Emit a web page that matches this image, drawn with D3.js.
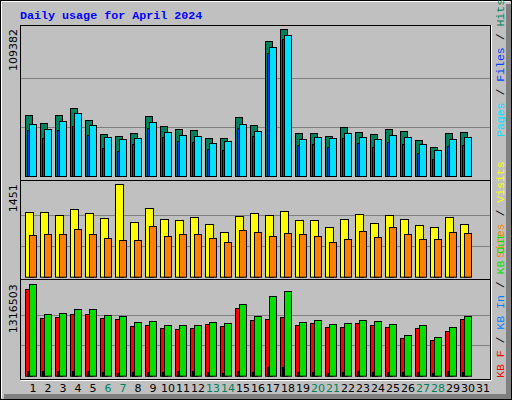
<!DOCTYPE html>
<html>
<head>
<meta charset="utf-8">
<script src="https://cdn.jsdelivr.net/npm/d3@7"></script>
<style>body{margin:0;background:#fff}svg{display:block}</style>
</head>
<body>
<svg id="chart" width="512" height="400"></svg>
<script>
// Daily values
const days = d3.range(1, 32);
const weekend = [6, 7, 13, 14, 20, 21, 27, 28];
const hits = [45540,39600,45540,50740,41830,31430,29950,32180,44800,37370,35150,34400,28460,28460,44060,38120,100490,109382,32180,32180,29950,36630,32920,31430,35150,33660,26980,21780,32180,32920];
const files = [33910,28460,34400,37370,30690,21040,18810,24010,35890,29210,26240,25490,20300,19550,35890,29950,91580,101970,23270,24010,21780,28460,24750,21780,25490,24010,17330,12870,22520,23270];
const pages = [38860,35150,41090,47030,38120,29210,27720,28460,40340,32920,30690,29950,24750,26240,38860,33660,96030,104940,27720,29210,28460,32180,29210,27720,30690,29210,24010,19550,27720,29210];
const visits = [1011,1011,964,1058,995,917,1451,854,1074,901,885,932,822,697,948,995,964,1027,885,885,775,901,980,838,964,901,807,775,932,822];
const sites = [650,665,665,744,665,602,571,571,791,634,665,665,602,540,728,697,634,681,665,634,540,587,712,618,775,665,587,587,697,681];
const kbOut = [1316503,883990,898400,956050,956050,869580,855160,768690,783100,725450,725450,725450,768690,754280,1028100,855160,1143420,1215480,768690,797510,739860,754280,797510,783100,739860,581320,725450,552490,696630,855160];
const kbF = [1244430,826350,840760,883990,883990,826350,811930,711040,725450,682220,667800,682220,739860,711040,970470,797510,811930,840760,725450,754280,696630,696630,754280,725450,696630,538080,682220,509260,639000,811930];
const kbIn = [62460,62460,62460,62460,62460,48040,33630,48040,48040,48040,62460,62460,48040,33630,62460,48040,120110,120110,48040,48040,33630,48040,62460,48040,48040,48040,48040,33630,62460,48040];
const maxLabels = ['109382', '1451', '1316503'];

const svg = d3.select('#chart');
const BG = '#c0c0c0';

// outer frame
svg.append('rect').attr('width', 512).attr('height', 400).attr('fill', BG);
svg.append('rect').attr('x', 506).attr('y', 4).attr('width', 5).attr('height', 395).attr('fill', '#808080');
svg.append('rect').attr('x', 4).attr('y', 394).attr('width', 507).attr('height', 5).attr('fill', '#808080');
svg.append('path').attr('d', 'M1.5,398V1.5H510').attr('stroke', '#fff').attr('fill', 'none');
svg.append('rect').attr('x', 0.5).attr('y', 0.5).attr('width', 511).attr('height', 399)
    .attr('fill', 'none').attr('stroke', '#000');

svg.append('text').attr('x', 20).attr('y', 19)
    .attr('font-family', 'Liberation Mono, DejaVu Sans Mono, monospace')
    .attr('font-weight', 'bold').attr('font-size', 11.7).attr('fill', '#0000ff')
    .text('Daily usage for April 2024');

const x = d3.scaleLinear().domain([1, 31]).range([25, 475]);

const panels = [
    { top: 25, bottom: 180, base: 176, max: 29, domain: hits[17] },
    { top: 180, bottom: 279, base: 276.7, max: 184.3, domain: visits[6] },
    { top: 279, bottom: 379, base: 375.7, max: 284.3, domain: kbOut[0] }
];

panels.forEach((p, i) => {
    p.y = d3.scaleLinear().domain([0, p.domain]).range([p.base, p.max]);
    svg.append('rect').attr('x', 20.5).attr('y', p.top + 0.5).attr('width', 470)
        .attr('height', p.bottom - p.top).attr('fill', BG).attr('stroke', '#000');
    svg.append('path').attr('d', `M20.5,${p.bottom + 1.5}H491.5V${p.top + 0.5}`)
        .attr('stroke', '#fff').attr('fill', 'none');
    [1 / 3, 2 / 3].forEach(f => {
        const gy = Math.round(p.y(p.domain * f)) + 0.5;
        svg.append('line').attr('x1', 21).attr('x2', 490).attr('y1', gy).attr('y2', gy)
            .attr('stroke', '#808080').attr('stroke-width', 1);
    });
    svg.append('text')
        .attr('transform', `translate(17,${p.max}) rotate(-90)`)
        .attr('text-anchor', 'end')
        .attr('font-family', 'DejaVu Sans, sans-serif').attr('font-size', 11)
        .text(maxLabels[i]);
});

function bars(panel, data, dx, w, color) {
    const y = panel.y;
    svg.append('g').selectAll('rect').data(data).enter().append('rect')
        .attr('x', (d, i) => x(i + 1) + dx + 0.5)
        .attr('y', d => Math.round(y(d)) + 0.5)
        .attr('width', w)
        .attr('height', d => panel.base - Math.round(y(d)))
        .attr('fill', color).attr('stroke', '#000').attr('stroke-width', 1);
}

bars(panels[0], hits, 0, 7, '#00805c');
bars(panels[0], files, 2, 7, '#0040ff');
bars(panels[0], pages, 4, 7, '#00e0ff');
bars(panels[1], visits, 0, 8, '#ffff00');
bars(panels[1], sites, 4, 7, '#ff8000');
bars(panels[2], kbF, 0, 7, '#ff0000');
bars(panels[2], kbOut, 4, 7, '#00e000');
bars(panels[2], kbIn, 2, 1, '#0080ff');

// day labels
svg.append('g').selectAll('text').data(days).enter().append('text')
    .attr('x', d => x(d) + 8).attr('y', 392)
    .attr('text-anchor', 'middle')
    .attr('font-family', 'DejaVu Sans, sans-serif').attr('font-size', 11)
    .attr('fill', d => weekend.includes(d) ? '#00805c' : '#000')
    .text(d => d);

// right side legends
function legend(yStart, parts) {
    const t = svg.append('text')
        .attr('transform', `translate(504,${yStart}) rotate(-90)`)
        .attr('font-family', 'Liberation Mono, DejaVu Sans Mono, monospace')
        .attr('font-size', 11.5);
    parts.forEach(([s, c]) => t.append('tspan').attr('fill', c).text(s));
}
legend(137, [['Pages', '#00e0ff'], [' / ', '#000'], ['Files', '#0040ff'], [' / ', '#000'], ['Hits', '#00805c']]);
legend(258, [['Sites', '#ff8000'], [' / ', '#000'], ['Visits', '#ffff00']]);
legend(378, [['KB F', '#ff0000'], [' / ', '#000'], ['KB In', '#0080ff'], [' / ', '#000'], ['KB Out', '#00e000']]);
</script>
</body>
</html>
